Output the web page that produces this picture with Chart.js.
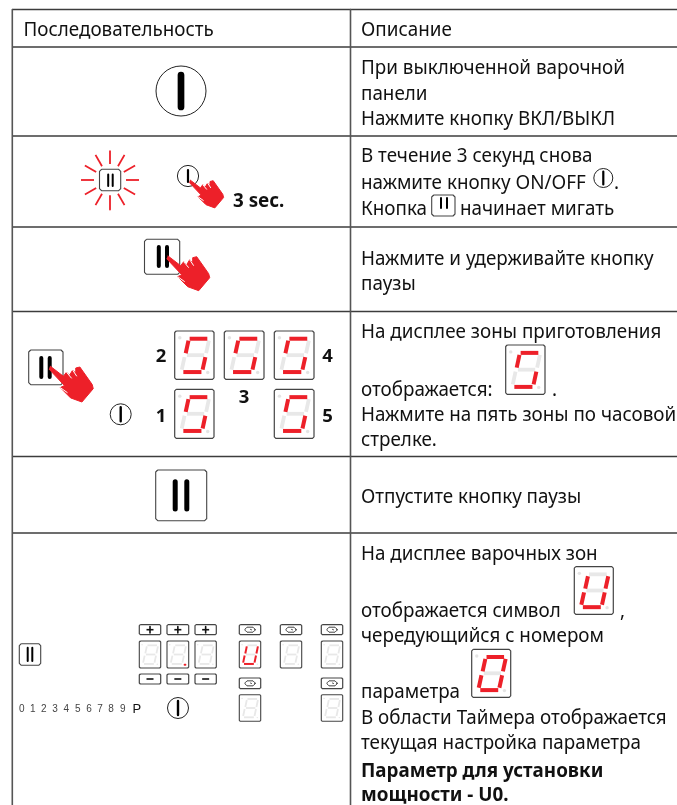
<!DOCTYPE html>
<html>
<head>
<meta charset="utf-8">
<style>
  html, body { margin: 0; padding: 0; background: #fff; }
  canvas { display: block; }
</style>
<script src="https://cdn.jsdelivr.net/npm/chart.js@4"></script>
</head>
<body>
<canvas id="sheet" width="677" height="805"></canvas>
<script>
// table rules, in sheet units
const gridColumnX = [12.3, 350.5];
const gridRowY = [9.5, 47, 136, 227, 311.5, 456.5, 533];
const gridRight = 677;
const gridBottom = 805;

// right column text
const descriptionLines = [
    'Описание',
    'При выключенной варочной', 'панели', 'Нажмите кнопку ВКЛ/ВЫКЛ',
    'В течение 3 секунд снова', 'нажмите кнопку ON/OFF', '.', 'Кнопка', 'начинает мигать',
    'Нажмите и удерживайте кнопку', 'паузы',
    'На дисплее зоны приготовления', 'отображается:', '.', 'Нажмите на пять зоны по часовой', 'стрелке.',
    'Отпустите кнопку паузы',
    'На дисплее варочных зон', 'отображается символ', ',', 'чередующийся с номером', 'параметра',
    'В области Таймера отображается', 'текущая настройка параметра'
];
const descriptionX = [361, 361, 361, 361, 361, 361, 614, 361, 460, 361, 361, 361, 361, 552, 361, 361, 361, 361, 361, 620, 361, 361, 361, 361];
const descriptionY = [36, 74, 100, 125, 162, 189, 189, 215, 215, 265, 290, 338, 396, 396, 421, 446, 503, 560, 617, 617, 642, 698, 724, 749];
const headerLabel = 'Последовательность';
const headerLabelX = 23.5;
const boldLines = ['Параметр для установки', 'мощности - U0.', '3 sec.'];
const boldX = [361, 361, 233];
const boldY = [777, 801, 207];
const zoneLabels = ['1', '2', '3', '4', '5'];
const zoneLabelX = [161, 161, 244, 327.5, 327.5];
const zoneLabelY = [422, 362, 403, 362, 422];
const scaleLabels = ['0', '1', '2', '3', '4', '5', '6', '7', '8', '9'];
const scaleLabelX = [21.7, 32.7, 43.7, 55, 66.3, 77.7, 89, 100, 111, 122.7];

// seven segment displays: left, top, right, bottom, lit segments
const bigDisplays = [
    [174.7, 331, 214, 379.3, 'afcd'],
    [224.3, 331, 264, 379.3, 'afcd'],
    [274.3, 331, 314, 379.3, 'afcd'],
    [174.7, 389.3, 214, 438.3, 'afcd'],
    [274.3, 389.3, 314, 438.3, 'afcd'],
    [505.7, 345, 545, 394.3, 'afcd'],
    [574.3, 566.7, 613.3, 614.3, 'fbecd'],
    [471.7, 649.3, 510.7, 697.3, 'abcdef']
];
const panelDisplays = [
    [139.3, 641, 160.7, 668, ''],
    [167, 641, 188.7, 668, ''],
    [195, 641, 216.3, 668, ''],
    [239.3, 641, 260.7, 668, 'fbecd'],
    [280.3, 641, 301.7, 668, ''],
    [321.3, 641, 342.7, 668, ''],
    [239.3, 694.7, 260.7, 721.3, ''],
    [321.3, 694.7, 342.7, 721.3, '']
];
const segmentEnds = {
    a: [[0.38, 0.16], [0.83, 0.16]],
    b: [[0.87, 0.2], [0.80, 0.46]],
    c: [[0.78, 0.54], [0.71, 0.80]],
    d: [[0.22, 0.85], [0.68, 0.85]],
    e: [[0.25, 0.54], [0.18, 0.80]],
    f: [[0.35, 0.2], [0.28, 0.46]],
    g: [[0.31, 0.50], [0.75, 0.50]]
};

// power buttons: centre x, centre y, radius, bar half height, bar width
const powerButtons = [
    [181, 91, 25, 16, 6.7],
    [188, 176, 10.6, 6, 2.2],
    [120.7, 414.3, 10.5, 7, 2.4],
    [178, 708, 10.5, 7, 2.4],
    [603.3, 178, 9.5, 6.5, 2.2]
];
// pause buttons: left, top, right, bottom, bar 1 x, bar 2 x, bar top, bar bottom, bar width
const pauseButtons = [
    [99.5, 169.3, 120.7, 190.7, 108.2, 112.7, 174.5, 186, 2],
    [144.5, 239.3, 179.7, 274.3, 158.8, 167, 247, 266, 4],
    [28.7, 350, 63, 384.7, 41.3, 49.7, 358, 377, 4],
    [155.7, 470, 206.7, 520.7, 175.2, 186.8, 481.7, 509, 5],
    [19.3, 643.7, 40.7, 665.3, 27.7, 32.3, 647.7, 661, 2],
    [431.7, 195, 455, 216, 441, 447, 198, 208, 2]
];
// hands: finger tip x, tip y, size
const handTips = [[190, 180.7, 0.8], [167.7, 256.7, 1], [50, 367, 1.03]];
const handOutline = [[0, -1], [13, 9], [16, 5], [19, 8], [22, 3], [25, 6], [25, 1], [29, 0], [41, 17], [42, 21], [31, 34], [20, 30], [10, 20], [14, 18], [-1, 2]];
const handCreases = [[[16, 5], [21, 11]], [[22, 3], [26, 9]], [[10, 20], [17, 25]]];
// blinking rays round the pause button
const rayX = [126, 123.8, 118, 110, 102, 96.2, 94, 96.2, 102, 110, 118, 123.8];
const rayY = [180, 172, 166.2, 164, 166.2, 172, 180, 188, 193.8, 196, 193.8, 188];
const rayEndX = [139, 135.1, 124.5, 110, 95.5, 84.9, 81, 84.9, 95.5, 110, 124.5, 135.1];
const rayEndY = [180, 165.5, 154.9, 150.5, 154.9, 165.5, 180, 194.5, 205.1, 209.5, 205.1, 194.5];
// panel buttons
const plusButtonX = [[139.3, 160.7], [167, 188.7], [195, 216.3]];
const timerButtonX = [[239.3, 260.7], [280.3, 301.7], [321.3, 342.7]];
const lowerTimerButtonX = [[239.3, 260.7], [321.3, 342.7]];

const RED = '#ed2029';
const datasets = [];

function addLine(points, color, width, cap) {
    datasets.push({
        data: points.map(p => ({ x: p[0], y: p[1] })),
        showLine: true,
        borderColor: color,
        borderWidth: width,
        borderCapStyle: cap || 'butt',
        borderJoinStyle: 'round',
        pointRadius: 0,
        fill: false
    });
}

function addShape(points, color) {
    datasets.push({
        data: points.map(p => ({ x: p[0], y: p[1] })),
        showLine: true,
        borderColor: color,
        backgroundColor: color,
        borderWidth: 1,
        borderJoinStyle: 'round',
        pointRadius: 0,
        fill: 'shape'
    });
}

function addRing(x, y, radius, width, color) {
    datasets.push({
        data: [{ x: x, y: y }],
        showLine: false,
        pointStyle: 'circle',
        pointRadius: radius,
        pointBorderWidth: width,
        pointBorderColor: color,
        pointBackgroundColor: '#fff'
    });
}

function addBox(x0, y0, x1, y1, width, chamfer) {
    const c = chamfer;
    addLine([[x0 + c, y0], [x1 - c, y0], [x1, y0 + c], [x1, y1 - c], [x1 - c, y1], [x0 + c, y1], [x0, y1 - c], [x0, y0 + c], [x0 + c, y0]], '#444', width);
}

function addDisplay(d, big) {
    const w = d[2] - d[0];
    const h = d[3] - d[1];
    const at = p => [d[0] + p[0] * w, d[1] + p[1] * h];
    addBox(d[0], d[1], d[2], d[3], big ? 1.2 : 1.1, big ? 1.5 : 1);
    const thick = big ? 3.8 : 1.8;
    for (const key in segmentEnds) {
        if (d[4].indexOf(key) < 0) {
            addLine(segmentEnds[key].map(at), '#e8e8e8', thick);
        }
    }
    for (const key in segmentEnds) {
        if (d[4].indexOf(key) >= 0) {
            addLine(segmentEnds[key].map(at), RED, big ? 4 : 2);
        }
    }
    // the two small decimal dots
    const dots = [at([0.13, 0.14]), at([0.84, 0.86])];
    for (const p of dots) {
        addLine([[p[0] - 0.01, p[1]], [p[0] + 0.01, p[1]]], '#e4e4e4', big ? 3.4 : 1.4, 'round');
    }
}

// table
for (const y of gridRowY) addLine([[gridColumnX[0], y], [gridRight, y]], '#3c3c3c', 1.4);
for (const x of gridColumnX) addLine([[x, gridRowY[0]], [x, gridBottom]], '#555', 1.6);

// displays
for (const d of bigDisplays) addDisplay(d, true);
for (const d of panelDisplays) addDisplay(d, false);
addLine([[184.6, 664.7], [185.4, 664.7]], RED, 2, 'round');

// power buttons
for (const b of powerButtons) {
    addRing(b[0], b[1], b[2], 1, '#222');
    addLine([[b[0], b[1] - b[3]], [b[0], b[1] + b[3]]], '#000', b[4], 'round');
}

// pause buttons
for (const b of pauseButtons) {
    addBox(b[0], b[1], b[2], b[3], 1.1, 2);
    addLine([[b[4], b[6]], [b[4], b[7]]], '#000', b[8]);
    addLine([[b[5], b[6]], [b[5], b[7]]], '#000', b[8]);
}

// rays
for (let i = 0; i < rayX.length; i++) {
    addLine([[rayX[i], rayY[i]], [rayEndX[i], rayEndY[i]]], RED, 1.8);
}

// hands
for (const h of handTips) {
    const place = p => [h[0] + p[0] * h[2], h[1] + p[1] * h[2]];
    addShape(handOutline.map(place), RED);
    for (const c of handCreases) addLine(c.map(place), '#fff', 1);
}

// plus, minus and timer buttons of the panel
for (const b of plusButtonX) {
    const mid = (b[0] + b[1]) / 2;
    addBox(b[0], 624.7, b[1], 634.7, 1.2, 1);
    addLine([[mid - 3.5, 629.7], [mid + 3.5, 629.7]], '#111', 1.6);
    addLine([[mid, 626.5], [mid, 633]], '#111', 1.6);
    addBox(b[0], 674, b[1], 684, 1.2, 1);
    addLine([[mid - 3.5, 679], [mid + 3.5, 679]], '#111', 1.6);
}
function addTimer(x0, x1, y0, y1) {
    const mx = (x0 + x1) / 2;
    const my = (y0 + y1) / 2;
    addBox(x0, y0, x1, y1, 1.2, 1);
    addBox(mx - 5, my - 2.5, mx + 5, my + 2.5, 1, 2);
    addLine([[mx, my - 0.5], [mx + 2, my + 0.3]], '#333', 0.8);
}
for (const b of timerButtonX) addTimer(b[0], b[1], 624.7, 634.7);
for (const b of lowerTimerButtonX) addTimer(b[0], b[1], 678, 688.7);

const STRETCH = 0.965;
const textPlugin = {
    id: 'sheetText',
    afterDatasetsDraw(chart) {
        const ctx = chart.ctx;
        const xs = chart.scales.x;
        const ys = chart.scales.y;
        const put = (text, x, y, font, stretch) => {
            ctx.save();
            ctx.font = font;
            ctx.fillStyle = '#111';
            ctx.textAlign = 'left';
            ctx.textBaseline = 'alphabetic';
            ctx.translate(xs.getPixelForValue(x), ys.getPixelForValue(y));
            ctx.scale(stretch, 1);
            ctx.fillText(text, 0, 0);
            ctx.restore();
        };
        const regular = '19.5px "Noto Sans"';
        put(headerLabel, headerLabelX, descriptionY[0], regular, STRETCH);
        descriptionLines.forEach((t, i) => put(t, descriptionX[i], descriptionY[i], regular, STRETCH));
        boldLines.forEach((t, i) => put(t, boldX[i], boldY[i], 'bold 19.5px "Noto Sans"', STRETCH));
        zoneLabels.forEach((t, i) => {
            ctx.save();
            ctx.font = 'bold 18.5px "Noto Sans"';
            ctx.fillStyle = '#111';
            ctx.textAlign = 'center';
            ctx.fillText(t, xs.getPixelForValue(zoneLabelX[i]), ys.getPixelForValue(zoneLabelY[i]));
            ctx.restore();
        });
        scaleLabels.forEach((t, i) => {
            ctx.save();
            ctx.font = '10px "Liberation Sans"';
            ctx.fillStyle = '#444';
            ctx.textAlign = 'center';
            ctx.fillText(t, xs.getPixelForValue(scaleLabelX[i]), ys.getPixelForValue(711.7));
            ctx.restore();
        });
        put('P', 132.5, 712.7, '13px "Liberation Sans"', 1);
    }
};

datasets.reverse(); // first dataset is painted last

new Chart(document.getElementById('sheet'), {
    type: 'scatter',
    data: { datasets: datasets },
    options: {
        responsive: false,
        animation: false,
        events: [],
        layout: { padding: 0, autoPadding: false },
        plugins: { legend: { display: false }, tooltip: { enabled: false }, title: { display: false } },
        scales: {
            x: { type: 'linear', display: false, min: 0, max: 677 },
            y: { type: 'linear', display: false, min: 0, max: 805, reverse: true }
        }
    },
    plugins: [textPlugin]
});
</script>
</body>
</html>
